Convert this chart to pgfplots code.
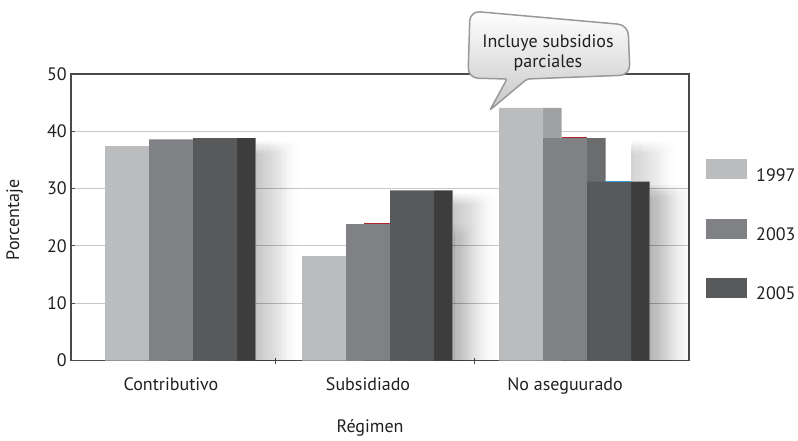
\documentclass[border=0pt]{standalone}
\usepackage{pgfplots}
\usepackage{pgfplotstable}
\pgfplotsset{compat=1.18}
\usetikzlibrary{fadings}
\usepackage{fontspec}
\setmainfont{PT Sans}
\definecolor{cA}{HTML}{BBBCBE}
\definecolor{cAs}{HTML}{A0A1A3}
\definecolor{cB}{HTML}{808184}
\definecolor{cBs}{HTML}{6B6C6E}
\definecolor{cC}{HTML}{58595B}
\definecolor{cCs}{HTML}{3D3D3E}
\definecolor{axc}{HTML}{4A4A4A}
\definecolor{gridc}{HTML}{C8C8C8}
\definecolor{txt}{HTML}{231F20}
\definecolor{redl}{HTML}{B0232A}
\definecolor{bluel}{HTML}{3A9BD0}

\pgfplotstableread{
x y1997 y2003 y2005
0 37.4 38.6 38.8
1 18.2 23.8 29.7
2 44.1 38.8 31.2
}\datatable

% soft shadow: x1, x2, ytop (axis units), opacity per layer
\newcommand{\softshadow}[4]{%
  \fill[black, opacity=#4, path fading=east] (axis cs:#1,0) rectangle (axis cs:#2,#3);
  \fill[black, opacity=#4, path fading=east] (axis cs:#1,0) rectangle (axis cs:#2-0.01,#3-0.3);
  \fill[black, opacity=#4, path fading=east] (axis cs:#1,0) rectangle (axis cs:#2-0.02,#3-0.6);
  \fill[black, opacity=#4, path fading=east] (axis cs:#1,0) rectangle (axis cs:#2-0.03,#3-0.9);
  \fill[black, opacity=#4, path fading=east] (axis cs:#1,0) rectangle (axis cs:#2-0.04,#3-1.2);
  \fill[black, opacity=#4, path fading=east] (axis cs:#1,0) rectangle (axis cs:#2-0.05,#3-1.5);
  \fill[black, opacity=#4, path fading=east] (axis cs:#1,0) rectangle (axis cs:#2-0.06,#3-1.8);
  \fill[black, opacity=#4, path fading=east] (axis cs:#1,0) rectangle (axis cs:#2-0.07,#3-2.1);
}

\begin{document}
\begin{tikzpicture}[x=1pt,y=1pt]
\useasboundingbox (0,0) rectangle (798,440);
\begin{axis}[
  at={(71pt,79.5pt)}, anchor=south west,
  scale only axis, width=618pt, height=286.5pt,
  xmin=-0.5076, xmax=2.629, ymin=0, ymax=50,
  axis line style={axc, line width=1.2pt},
  ytick={0,10,...,50}, xtick={0,1,2},
  xticklabels={Contributivo, Subsidiado, No aseguurado},
  xtick style={draw=none},
  ytick style={axc, line width=1pt},
  ytick pos=left, xtick pos=bottom,
  tick align=inside, major tick length=4pt,
  extra x ticks={0.531,1.538},
  extra x tick labels={},
  extra x tick style={xtick style={draw=axc, line width=1pt}, major tick length=6pt, tick align=center},
  ymajorgrids, grid style={gridc, line width=1pt},
  /pgf/number format/assume math mode=true,
  yticklabel style={font=\fontsize{18}{20}\selectfont, text=txt, inner sep=0pt, xshift=-4pt},
  xticklabel style={font=\fontsize{18}{20}\selectfont, text=txt, anchor=base, inner sep=0pt, yshift=-29.5pt},
  xlabel={Régimen},
  xlabel style={at={(axis description cs:0.484,0)}, anchor=base, inner sep=0pt, yshift=-71.5pt, font=\fontsize{18}{20}\selectfont, text=txt},
  ylabel={Porcentaje},
  ylabel style={at={(axis description cs:-0.0841,0.4904)}, anchor=base, inner sep=0pt, font=\fontsize{18}{20}\selectfont, text=txt},
  legend style={at={(1.0275,0.7028)}, anchor=north west, draw=none, fill=none, inner sep=0pt, row sep=36pt, column sep=9pt, font=\fontsize{18}{20}\selectfont, text=txt, nodes={inner sep=0pt}},
  legend cell align=left,
  clip=false,
]
% soft shadows
\softshadow{0.429}{0.66}{38.3}{0.03}
\softshadow{1.429}{1.66}{29.2}{0.03}
\softshadow{2.429}{2.66}{30.7}{0.03}
\softshadow{2.335}{2.58}{38.3}{0.022}
\softshadow{1.429}{1.56}{23.9}{0.015}

\addplot[ybar, bar width=18.5pt, bar shift=-12.75pt, fill=cAs, draw=none, forget plot] table[x=x, y=y1997] {\datatable};
\addplot[ybar, bar width=44pt, bar shift=-44pt, fill=cA, draw=none,
  legend image code/.code={\fill[cA] (0pt,-4pt) rectangle (41pt,16pt);}] table[x=x, y=y1997] {\datatable};
\addplot[ybar, bar width=18.5pt, bar shift=31.25pt, fill=cBs, draw=none, forget plot] table[x=x, y=y2003] {\datatable};
\addplot[ybar, bar width=44pt, bar shift=0pt, fill=cB, draw=none,
  legend image code/.code={\fill[cB] (0pt,-4pt) rectangle (41pt,16pt);}] table[x=x, y=y2003] {\datatable};
\addplot[ybar, bar width=18.5pt, bar shift=75.25pt, fill=cCs, draw=none, forget plot] table[x=x, y=y2005] {\datatable};
\addplot[ybar, bar width=44pt, bar shift=44pt, fill=cC, draw=none,
  legend image code/.code={\fill[cC] (0pt,-4pt) rectangle (41pt,16pt);}] table[x=x, y=y2005] {\datatable};
\legend{1997,2003,2005}

\draw[redl, line width=1pt] (axis cs:0.982,23.85) -- (axis cs:1.1117,23.85);
\draw[redl, line width=1pt] (axis cs:1.982,38.85) -- (axis cs:2.1117,38.85);
\draw[bluel, line width=1pt] (axis cs:2.205,31.25) -- (axis cs:2.335,31.25);
\end{axis}

% callout
\draw[draw=black!40, line width=1.5pt, top color=white, bottom color=black!22, rounded corners=10pt]
  (470,429) -- (628,415) -- (630,365) [rounded corners=2pt] -- (527,361) -- (490,330) -- (507,361) [rounded corners=10pt] -- (468,362) -- cycle;
\node[anchor=base, inner sep=0pt, font=\fontsize{18}{20}\selectfont, text=txt] at (548,392) {Incluye subsidios};
\node[anchor=base, inner sep=0pt, font=\fontsize{18}{20}\selectfont, text=txt] at (548,372) {parciales};
\end{tikzpicture}
\end{document}
